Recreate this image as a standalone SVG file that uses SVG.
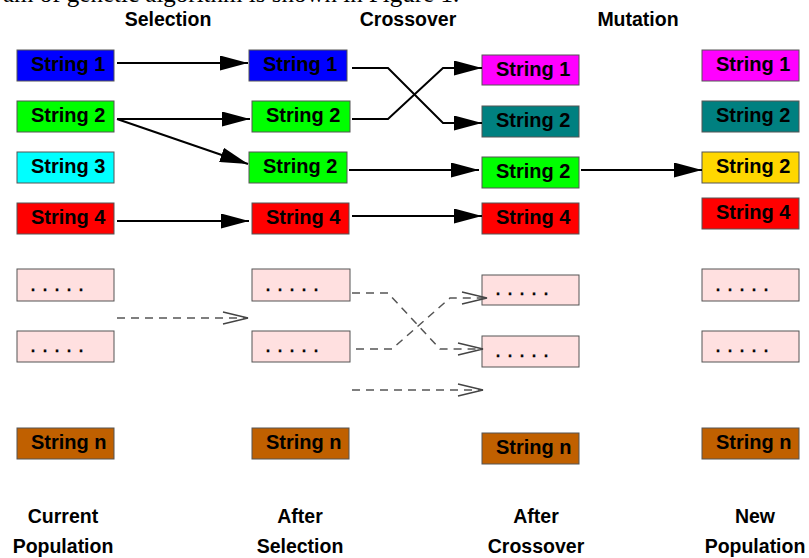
<svg xmlns="http://www.w3.org/2000/svg" width="809" height="558" viewBox="0 0 809 558">
<style>
.box{stroke:#555;stroke-width:1}
.lbl{font-family:"Liberation Sans",Arial,sans-serif;font-weight:bold;font-size:20px;fill:#000}
.dots{font-family:"Liberation Sans",Arial,sans-serif;font-size:21.6px;fill:#000;stroke:#000;stroke-width:0.4}
.hd{font-family:"Liberation Sans",Arial,sans-serif;font-weight:bold;font-size:19.5px;fill:#000;text-anchor:middle}
.solid{fill:none;stroke:#000;stroke-width:2}
.dash{fill:none;stroke:#555;stroke-width:1.5;stroke-dasharray:8,6}
.open{fill:none;stroke:#444;stroke-width:1.3}
.blue{fill:#0000ff}.green{fill:#00ff00}.cyan{fill:#00ffff}.red{fill:#ff0000}.mag{fill:#ff00ff}.teal{fill:#008080}.gold{fill:#ffd700}.brown{fill:#c06000}.pink{fill:#ffe0e0}
</style>
<defs>
<marker id="ah" markerUnits="userSpaceOnUse" markerWidth="28" markerHeight="15" refX="28" refY="7.5" orient="auto">
<path d="M0,0 L28,7.5 L0,15 z" fill="#000"/>
</marker>
</defs>
<text x="3" y="2" font-family="'Liberation Serif',serif" font-size="25" fill="#000">am of genetic algorithm is shown in Figure 1.</text>
<g id="headers">
<text class="hd" x="168" y="26">Selection</text>
<text class="hd" x="408" y="26">Crossover</text>
<text class="hd" x="638" y="26">Mutation</text>
</g>
<g id="col1">
<g id="c1s1"><rect class="box blue" x="17" y="50" width="97" height="31"/><text class="lbl" x="31" y="71">String 1</text></g>
<g id="c1s2"><rect class="box green" x="17" y="101" width="97" height="31"/><text class="lbl" x="31" y="122">String 2</text></g>
<g id="c1s3"><rect class="box cyan" x="17" y="152" width="97" height="31"/><text class="lbl" x="31" y="173">String 3</text></g>
<g id="c1s4"><rect class="box red" x="17" y="203" width="97" height="31"/><text class="lbl" x="31" y="224">String 4</text></g>
<g id="c1p1"><rect class="box pink" x="17" y="269" width="97" height="32"/><text class="dots" x="30" y="291">. . . . .</text></g>
<g id="c1p2"><rect class="box pink" x="17" y="331" width="97" height="31"/><text class="dots" x="30" y="352">. . . . .</text></g>
<g id="c1sn"><rect class="box brown" x="17" y="428" width="97" height="31"/><text class="lbl" x="31" y="449">String n</text></g>
</g>
<g id="col2">
<g id="c2s1"><rect class="box blue" x="249" y="50" width="98" height="31"/><text class="lbl" x="263" y="71">String 1</text></g>
<g id="c2s2a"><rect class="box green" x="252" y="101" width="98" height="31"/><text class="lbl" x="266" y="122">String 2</text></g>
<g id="c2s2b"><rect class="box green" x="249" y="152" width="98" height="31"/><text class="lbl" x="263" y="173">String 2</text></g>
<g id="c2s4"><rect class="box red" x="252" y="203" width="97" height="31"/><text class="lbl" x="266" y="224">String 4</text></g>
<g id="c2p1"><rect class="box pink" x="252" y="269" width="98" height="32"/><text class="dots" x="265" y="291">. . . . .</text></g>
<g id="c2p2"><rect class="box pink" x="252" y="331" width="98" height="31"/><text class="dots" x="265" y="352">. . . . .</text></g>
<g id="c2sn"><rect class="box brown" x="252" y="428" width="97" height="31"/><text class="lbl" x="266" y="449">String n</text></g>
</g>
<g id="col3">
<g id="c3s1"><rect class="box mag" x="482" y="55" width="97" height="30"/><text class="lbl" x="496" y="76">String 1</text></g>
<g id="c3s2a"><rect class="box teal" x="482" y="106" width="97" height="31"/><text class="lbl" x="496" y="127">String 2</text></g>
<g id="c3s2b"><rect class="box green" x="482" y="157" width="97" height="31"/><text class="lbl" x="496" y="178">String 2</text></g>
<g id="c3s4"><rect class="box red" x="482" y="203" width="97" height="31"/><text class="lbl" x="496" y="224">String 4</text></g>
<g id="c3p1"><rect class="box pink" x="482" y="275" width="97" height="30"/><text class="dots" x="495" y="295">. . . . .</text></g>
<g id="c3p2"><rect class="box pink" x="482" y="336" width="97" height="31"/><text class="dots" x="495" y="357">. . . . .</text></g>
<g id="c3sn"><rect class="box brown" x="482" y="433" width="97" height="31"/><text class="lbl" x="496" y="454">String n</text></g>
</g>
<g id="col4">
<g id="c4s1"><rect class="box mag" x="702" y="50" width="97" height="31"/><text class="lbl" x="716" y="71">String 1</text></g>
<g id="c4s2a"><rect class="box teal" x="702" y="101" width="97" height="31"/><text class="lbl" x="716" y="122">String 2</text></g>
<g id="c4s2b"><rect class="box gold" x="702" y="152" width="97" height="31"/><text class="lbl" x="716" y="173">String 2</text></g>
<g id="c4s4"><rect class="box red" x="702" y="198" width="97" height="31"/><text class="lbl" x="716" y="219">String 4</text></g>
<g id="c4p1"><rect class="box pink" x="702" y="269" width="97" height="32"/><text class="dots" x="715" y="291">. . . . .</text></g>
<g id="c4p2"><rect class="box pink" x="702" y="331" width="97" height="31"/><text class="dots" x="715" y="352">. . . . .</text></g>
<g id="c4sn"><rect class="box brown" x="702" y="428" width="97" height="31"/><text class="lbl" x="716" y="449">String n</text></g>
</g>
<g id="footers">
<text class="hd" x="63" y="523">Current</text>
<text class="hd" x="63" y="553">Population</text>
<text class="hd" x="300" y="523">After</text>
<text class="hd" x="300" y="553">Selection</text>
<text class="hd" x="536" y="523">After</text>
<text class="hd" x="536" y="553">Crossover</text>
<text class="hd" x="755" y="523">New</text>
<text class="hd" x="755" y="553">Population</text>
</g>
<g id="connectors">
<path class="solid" d="M117,63 L248,63" marker-end="url(#ah)"/>
<path class="solid" d="M117,119 L250,119" marker-end="url(#ah)"/>
<path class="solid" d="M117,119 L248,164" marker-end="url(#ah)"/>
<path class="solid" d="M117,221 L249,221" marker-end="url(#ah)"/>
<path class="solid" d="M352,68 L388,68 L443,123 L482,123" marker-end="url(#ah)"/>
<path class="solid" d="M352,119 L388,119 L443,68 L482,68" marker-end="url(#ah)"/>
<path class="solid" d="M349,170 L479,170" marker-end="url(#ah)"/>
<path class="solid" d="M352,216 L482,216" marker-end="url(#ah)"/>
<path class="solid" d="M581,170 L702,170" marker-end="url(#ah)"/>
<path class="dash" d="M117,318 L248,318"/>
<path class="open" d="M223,312 L248,318 L223,324"/>
<path class="dash" d="M352,293 L388,293 L440,349 L483,349"/>
<path class="open" d="M458,343 L483,349 L458,355"/>
<path class="dash" d="M356,349 L392,349 L450,298 L487,298"/>
<path class="open" d="M462,292 L487,298 L462,304"/>
<path class="dash" d="M352,390 L483,390"/>
<path class="open" d="M458,384 L483,390 L458,396"/>
</g>
</svg>
